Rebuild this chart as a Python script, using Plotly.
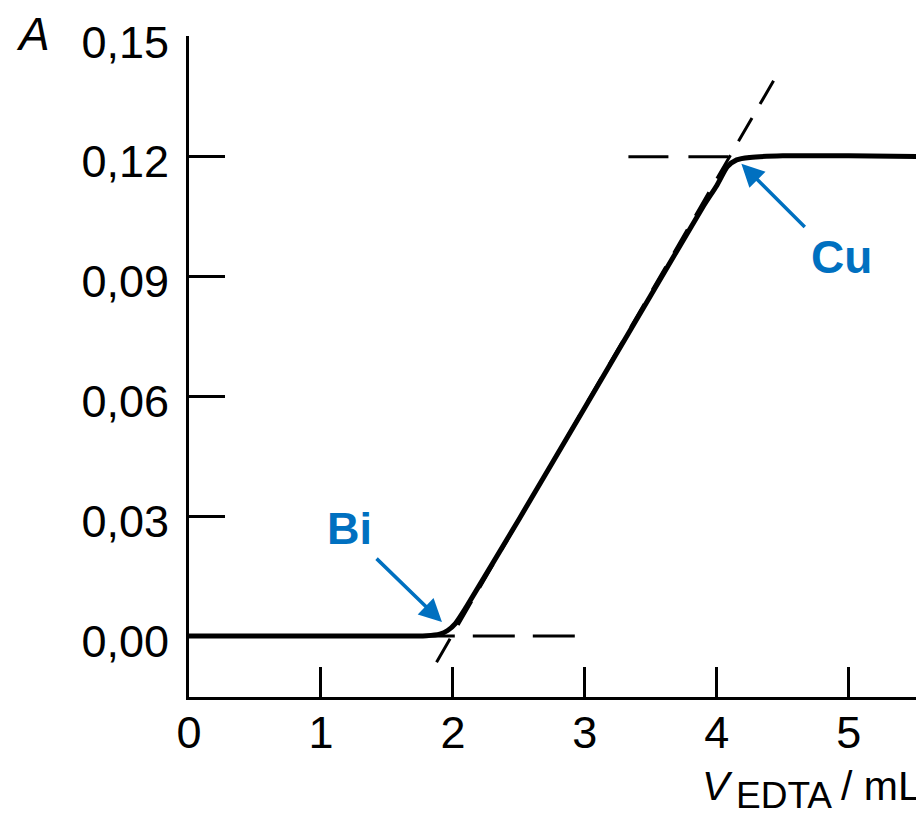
import plotly.graph_objects as go

# titration curve (absorbance vs volume of EDTA)
v_edta = [0, 0.5, 1.0, 1.5, 1.8, 1.9, 1.96, 2.02, 2.1, 2.5, 3.0, 3.5, 3.9, 4.0,
          4.08, 4.15, 4.25, 4.5, 5.0, 5.55]
absorb = [0, 0, 0, 0, 0.0001, 0.0005, 0.0014, 0.0032, 0.0072, 0.0292, 0.0572,
          0.0853, 0.1077, 0.1128, 0.1175, 0.1192, 0.1198, 0.1202, 0.1202, 0.1200]

# extrapolated lines
tangent_x = [4.43, 1.85]
tangent_y = [0.139, -0.008]
base_x = [1.696, 2.937]
base_y = [0, 0]
top_x = [3.33, 4.3]
top_y = [0.12, 0.12]

x_ticks = [0, 1, 2, 3, 4, 5]
x_labels = ["0", "1", "2", "3", "4", "5"]
y_ticks = [0, 0.03, 0.06, 0.09, 0.12, 0.15]
y_labels = ["0,00", "0,03", "0,06", "0,09", "0,12", "0,15"]

blue = "#0070C0"
font = "Liberation Sans, Arial, sans-serif"

# page has an 8px body margin, so work in page pixels minus 8
OFF = 8
W, H = 924 - OFF, 816 - OFF
L, R, T, B = 189 - OFF, 924 - OFF, 36 - OFF, 697 - OFF


def px(xp, yp):
    # page pixel position -> paper coordinates
    return (xp - OFF - L) / (R - L), (B - (yp - OFF)) / (B - T)


fig = go.Figure()
fig.add_trace(go.Scatter(x=tangent_x, y=tangent_y, mode="lines",
                         line=dict(color="black", width=3, dash="27px,16px")))
fig.add_trace(go.Scatter(x=base_x, y=base_y, mode="lines",
                         line=dict(color="black", width=3, dash="42px,18px")))
fig.add_trace(go.Scatter(x=top_x, y=top_y, mode="lines",
                         line=dict(color="black", width=3, dash="40px,20px")))
fig.add_trace(go.Scatter(x=v_edta, y=absorb, mode="lines",
                         line=dict(color="black", width=5, shape="spline", smoothing=0.6)))

fig.update_layout(
    width=W, height=H,
    margin=dict(l=L, r=W - R, t=T, b=H - B),
    plot_bgcolor="white", paper_bgcolor="white",
    showlegend=False,
    font=dict(family=font, size=45, color="black"),
)
fig.update_xaxes(range=[0, 5.57], tickvals=x_ticks, ticktext=x_labels,
                 ticks="inside", ticklen=30, tickwidth=3, tickcolor="black",
                 showline=True, linewidth=3, linecolor="black", automargin=False,
                 showgrid=False, zeroline=False, ticklabelstandoff=-6)
fig.update_yaxes(range=[-0.01525, 0.1502], tickvals=y_ticks, ticktext=y_labels,
                 ticks="inside", ticklen=36, tickwidth=3, tickcolor="black",
                 showline=True, linewidth=3, linecolor="black", automargin=False,
                 showgrid=False, zeroline=False, ticklabelstandoff=8,
                 ticklabelshift=5)

# axis titles
ax_, ay_ = px(33, 34)
fig.add_annotation(x=ax_, y=ay_, xref="paper", yref="paper", text="<i>A</i>",
                   xanchor="center", yanchor="middle", showarrow=False, font=dict(size=46))
vx, vy = px(700, 786)
fig.add_annotation(x=vx, y=vy, xref="paper", yref="paper", text="<i>V</i>",
                   xanchor="left", yanchor="middle", showarrow=False, font=dict(size=41))
ex, ey = px(734, 796)
fig.add_annotation(x=ex, y=ey, xref="paper", yref="paper", text="EDTA",
                   xanchor="left", yanchor="middle", showarrow=False, font=dict(size=37))
mx, my = px(923, 786)
fig.add_annotation(x=mx, y=my, xref="paper", yref="paper", text="/ mL",
                   xanchor="right", yanchor="middle", showarrow=False, font=dict(size=41))

# labels with arrows
fig.add_annotation(x=1.22, y=0.027, text="<b>Bi</b>", showarrow=False,
                   xanchor="center", yanchor="middle", font=dict(size=45, color=blue))
fig.add_annotation(x=1.917, y=0.0035, ax=1.41, ay=0.01975, axref="x", ayref="y",
                   text="", showarrow=True, arrowhead=2, arrowsize=1.3,
                   arrowwidth=3.5, arrowcolor=blue)
fig.add_annotation(x=4.948, y=0.095, text="<b>Cu</b>", showarrow=False,
                   xanchor="center", yanchor="middle", font=dict(size=46, color=blue))
fig.add_annotation(x=4.186, y=0.11825, ax=4.678, ay=0.102, axref="x", ayref="y",
                   text="", showarrow=True, arrowhead=2, arrowsize=1.3,
                   arrowwidth=3.5, arrowcolor=blue)

fig.write_html("out.html")
